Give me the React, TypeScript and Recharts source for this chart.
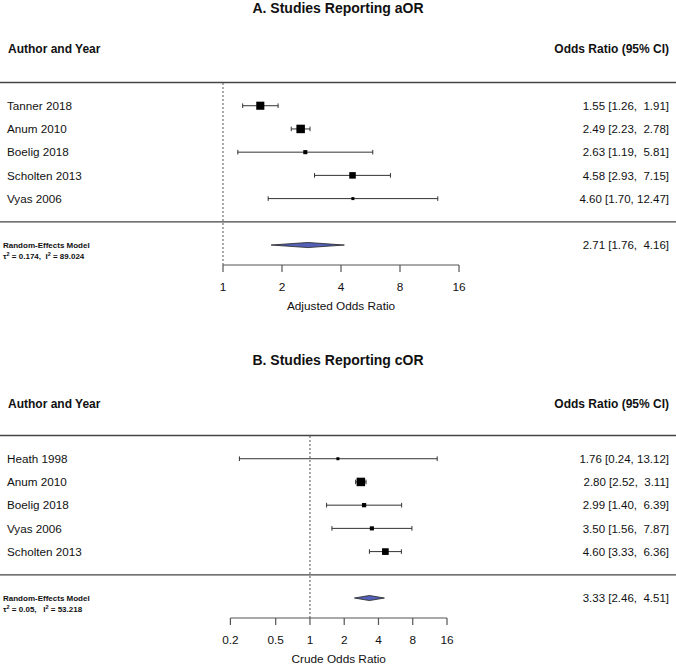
import React from 'react';
import { ComposedChart, XAxis, YAxis, Scatter, ErrorBar, Area, ReferenceLine } from 'recharts';

const FONT = '"Liberation Sans", Arial, Helvetica, sans-serif';

// ---------- Panel A: adjusted odds ratios ----------
const studiesA = ['Tanner 2018', 'Anum 2010', 'Boelig 2018', 'Scholten 2013', 'Vyas 2006'];
const orA = [1.55, 2.49, 2.63, 4.58, 4.6];
const loA = [1.26, 2.23, 1.19, 2.93, 1.7];
const hiA = [1.91, 2.78, 5.81, 7.15, 12.47];
const weightA = [26.0, 27.2, 14.3, 21.4, 11.1];
const pooledA = [2.71, 1.76, 4.16]; // estimate, lower, upper
const hetA = ['0.174', '89.024']; // tau^2, I^2
const ticksA = [1, 2, 4, 8, 16];

// ---------- Panel B: crude odds ratios ----------
const studiesB = ['Heath 1998', 'Anum 2010', 'Boelig 2018', 'Vyas 2006', 'Scholten 2013'];
const orB = [1.76, 2.8, 2.99, 3.5, 4.6];
const loB = [0.24, 2.52, 1.4, 1.56, 3.33];
const hiB = [13.12, 3.11, 6.39, 7.87, 6.36];
const weightB = [2.2, 44.7, 11.8, 10.7, 30.6];
const pooledB = [3.33, 2.46, 4.51];
const hetB = ['0.05', '53.218'];
const ticksB = [0.2, 0.5, 1, 2, 4, 8, 16];

const Y_TOP = 6;
const Y_SEP = 0;
const Y_BOTTOM = -1.86;
const SUM_ROW = -1;
const DIAMOND_HALF = 0.11;
const FAR_LEFT = 0.0001;
const FAR_RIGHT = 10000;

function fmtCI(est: number, lo: number, hi: number) {
  return `${est.toFixed(2)} [${lo.toFixed(2)}, ${hi.toFixed(2).padStart(5, ' ')}]`;
}

type PanelProps = {
  top: number;
  studies: string[];
  or: number[];
  lo: number[];
  hi: number[];
  weights: number[];
  pooled: number[];
  het: string[];
  hetGap: string;
  ticks: number[];
  axisLabel: string;
  leftWidth: number;
  rightWidth: number;
};

function Panel(p: PanelProps) {
  const n = p.studies.length;
  const minW = Math.min(...p.weights);
  const maxW = Math.max(...p.weights);
  const sizeOf = (w: number) => 3 + ((w - minW) / (maxW - minW)) * 5.5;
  const points = p.studies.map((s, i) => ({
    x: p.or[i],
    y: n - i,
    err: [p.or[i] - p.lo[i], p.hi[i] - p.or[i]],
    w: p.weights[i],
  }));
  const diamond = [
    { x: p.pooled[1], d: [SUM_ROW, SUM_ROW] },
    { x: p.pooled[0], d: [SUM_ROW - DIAMOND_HALF, SUM_ROW + DIAMOND_HALF] },
    { x: p.pooled[2], d: [SUM_ROW, SUM_ROW] },
  ];
  const rowTicks = [...points.map((d) => d.y), SUM_ROW];

  const renderTick = (t: any) => {
    const v = t.payload.value;
    const y = t.y;
    if (v === SUM_ROW) {
      return (
        <g>
          <text x={3} y={y + 2.9} fontSize={8} fontWeight="bold" fill="#111" fontFamily={FONT}>
            Random-Effects Model
          </text>
          <text
            x={3}
            y={y + 13.9}
            fontSize={8}
            fontWeight="bold"
            fill="#111"
            fontFamily={FONT}
            xmlSpace="preserve"
            style={{ whiteSpace: 'pre' }}
          >
            τ<tspan dy={-3} fontSize={5.5}>2</tspan>
            <tspan dy={3}>{` = ${p.het[0]},${p.hetGap}I`}</tspan>
            <tspan dy={-3} fontSize={5.5}>2</tspan>
            <tspan dy={3}>{` = ${p.het[1]}`}</tspan>
          </text>
          <text
            x={669}
            y={y + 4.2}
            fontSize={11.5}
            textAnchor="end"
            fill="#111"
            fontFamily={FONT}
            xmlSpace="preserve"
            style={{ whiteSpace: 'pre' }}
          >
            {fmtCI(p.pooled[0], p.pooled[1], p.pooled[2])}
          </text>
        </g>
      );
    }
    const i = n - v;
    return (
      <g>
        <text x={7} y={y + 4.2} fontSize={11.7} fill="#111" fontFamily={FONT}>
          {p.studies[i]}
        </text>
        <text
          x={669}
          y={y + 4.2}
          fontSize={11.5}
          textAnchor="end"
          fill="#111"
          fontFamily={FONT}
          xmlSpace="preserve"
          style={{ whiteSpace: 'pre' }}
        >
          {fmtCI(p.or[i], p.lo[i], p.hi[i])}
        </text>
      </g>
    );
  };

  const renderSquare = (s: any) => {
    const w = s.payload && typeof s.payload.w === 'number' ? s.payload.w : minW;
    const size = sizeOf(w);
    return <rect x={s.cx - size / 2} y={s.cy - size / 2} width={size} height={size} fill="#000" />;
  };

  return (
    <div style={{ position: 'absolute', left: 0, top: p.top }}>
      <ComposedChart
        width={676}
        height={312}
        data={diamond}
        margin={{ top: 82.5, right: p.rightWidth, bottom: 0, left: 0 }}
      >
        <XAxis
          type="number"
          dataKey="x"
          scale="log"
          domain={[p.ticks[0], p.ticks[p.ticks.length - 1]]}
          allowDataOverflow
          ticks={p.ticks}
          interval={0}
          height={47}
          axisLine={{ stroke: '#555', strokeWidth: 1.2 }}
          tickLine={{ stroke: '#555', strokeWidth: 1.2 }}
          tickSize={7}
          tickMargin={11}
          tick={{ fontSize: 11.8, fill: '#111', fontFamily: FONT }}
          label={{
            value: p.axisLabel,
            position: 'insideBottom',
            offset: 2,
            fontSize: 11.8,
            fill: '#111',
            fontFamily: FONT,
          }}
        />
        <YAxis
          type="number"
          dataKey="y"
          domain={[Y_BOTTOM, Y_TOP]}
          allowDataOverflow
          ticks={rowTicks}
          interval={0}
          width={p.leftWidth}
          axisLine={false}
          tickLine={false}
          tick={renderTick}
        />
        <ReferenceLine
          segment={[
            { x: FAR_LEFT, y: Y_TOP },
            { x: FAR_RIGHT, y: Y_TOP },
          ]}
          ifOverflow="visible"
          stroke="#444"
          strokeWidth={1.3}
        />
        <ReferenceLine
          segment={[
            { x: FAR_LEFT, y: Y_SEP },
            { x: FAR_RIGHT, y: Y_SEP },
          ]}
          ifOverflow="visible"
          stroke="#444"
          strokeWidth={1.3}
        />
        <ReferenceLine x={1} stroke="#555" strokeDasharray="2 2" ifOverflow="visible" />
        <Area
          type="linear"
          dataKey="d"
          fill="#5360b6"
          fillOpacity={1}
          stroke="#222"
          strokeWidth={0.8}
          dot={false}
          activeDot={false}
          isAnimationActive={false}
        />
        <Scatter data={points} dataKey="y" shape={renderSquare} isAnimationActive={false}>
          <ErrorBar dataKey="err" direction="x" width={2.3} stroke="#333" strokeWidth={1} />
        </Scatter>
      </ComposedChart>
    </div>
  );
}

export default function App() {
  return (
    <div
      style={{
        position: 'absolute',
        left: 0,
        top: 0,
        width: 676,
        height: 666,
        overflow: 'hidden',
        background: '#fff',
      }}
    >
      <Panel
        top={0}
        studies={studiesA}
        or={orA}
        lo={loA}
        hi={hiA}
        weights={weightA}
        pooled={pooledA}
        het={hetA}
        hetGap="  "
        ticks={ticksA}
        axisLabel="Adjusted Odds Ratio"
        leftWidth={223}
        rightWidth={217}
      />
      <Panel
        top={353.3}
        studies={studiesB}
        or={orB}
        lo={loB}
        hi={hiB}
        weights={weightB}
        pooled={pooledB}
        het={hetB}
        hetGap="   "
        ticks={ticksB}
        axisLabel="Crude Odds Ratio"
        leftWidth={230.4}
        rightWidth={229}
      />
      <svg
        width={676}
        height={666}
        style={{ position: 'absolute', left: 0, top: 0, pointerEvents: 'none' }}
      >
        <text x={338} y={12.5} textAnchor="middle" fontSize={14} fontWeight="bold" fill="#111" fontFamily={FONT}>
          A. Studies Reporting aOR
        </text>
        <text x={8} y={53.3} fontSize={12} fontWeight="bold" fill="#111" fontFamily={FONT}>
          Author and Year
        </text>
        <text x={669} y={53.3} textAnchor="end" fontSize={12} fontWeight="bold" fill="#111" fontFamily={FONT}>
          Odds Ratio (95% CI)
        </text>
        <text x={338} y={365} textAnchor="middle" fontSize={14} fontWeight="bold" fill="#111" fontFamily={FONT}>
          B. Studies Reporting cOR
        </text>
        <text x={8} y={408.3} fontSize={12} fontWeight="bold" fill="#111" fontFamily={FONT}>
          Author and Year
        </text>
        <text x={669} y={408.3} textAnchor="end" fontSize={12} fontWeight="bold" fill="#111" fontFamily={FONT}>
          Odds Ratio (95% CI)
        </text>
      </svg>
    </div>
  );
}
